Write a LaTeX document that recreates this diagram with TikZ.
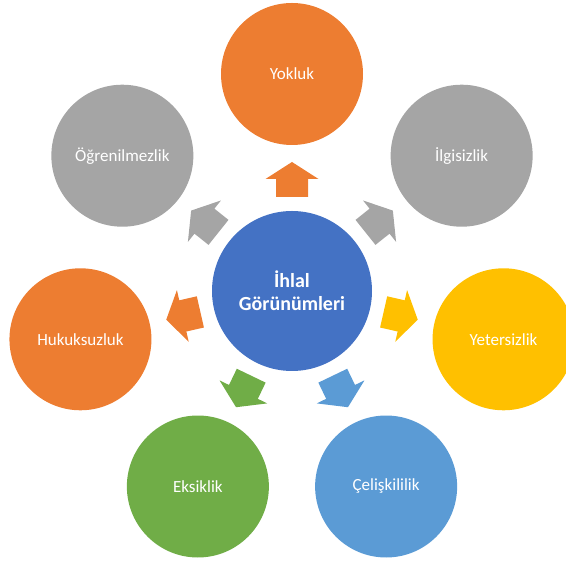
\documentclass[tikz,border=0pt]{standalone}
\usepackage{fontspec}
\setmainfont{Carlito}
\usetikzlibrary{calc}
\definecolor{cblue}{HTML}{4472C4}
\definecolor{corange}{HTML}{ED7D31}
\definecolor{cgray}{HTML}{A5A5A5}
\definecolor{cyellow}{HTML}{FFC000}
\definecolor{clblue}{HTML}{5B9BD5}
\definecolor{cgreen}{HTML}{70AD47}
\tikzset{
  outer/.style={circle, minimum size=142pt, inner sep=0pt, fill=#1, text=white,
    font=\fontsize{17}{20}\selectfont},
  hub/.style={circle, minimum size=160pt, inner sep=0pt, fill=cblue, text=white,
    align=center, font=\fontsize{20}{23}\selectfont\bfseries},
}
\newcommand{\blockarr}[2]{%
  \begin{scope}[shift={(hub.center)}, rotate=#1]
    \fill[#2] (94,-16) -- (112,-16) -- (112,-26.5) -- (129,0) -- (112,26.5) -- (112,16) -- (94,16) -- cycle;
  \end{scope}}
\begin{document}
\begin{tikzpicture}[x=1pt,y=1pt]
\useasboundingbox (0,0) rectangle (566,562);
\clip (0,0) rectangle (566,562);
\node[hub] (hub) at (292,271) {İhlal\\Görünümleri};
\node[outer=corange] (yok) at ($(hub.center)+(90:217)$) {Yokluk};
\node[outer=cgray] (ogr) at ($(hub.center)+(141.43:217)$) {Öğrenilmezlik};
\node[outer=corange] (huk) at ($(hub.center)+(192.86:217)$) {Hukuksuzluk};
\node[outer=cgreen] (eks) at ($(hub.center)+(244.29:217)$) {Eksiklik};
\node[outer=clblue] (cel) at ($(hub.center)+(295.71:217)$) {Çelişkililik};
\node[outer=cyellow] (yet) at ($(hub.center)+(347.14:217)$) {Yetersizlik};
\node[outer=cgray] (ilg) at ($(hub.center)+(38.57:217)$) {İlgisizlik};
\blockarr{90}{corange}
\blockarr{141.43}{cgray}
\blockarr{192.86}{corange}
\blockarr{244.29}{cgreen}
\blockarr{295.71}{clblue}
\blockarr{347.14}{cyellow}
\blockarr{38.57}{cgray}
\end{tikzpicture}
\end{document}
